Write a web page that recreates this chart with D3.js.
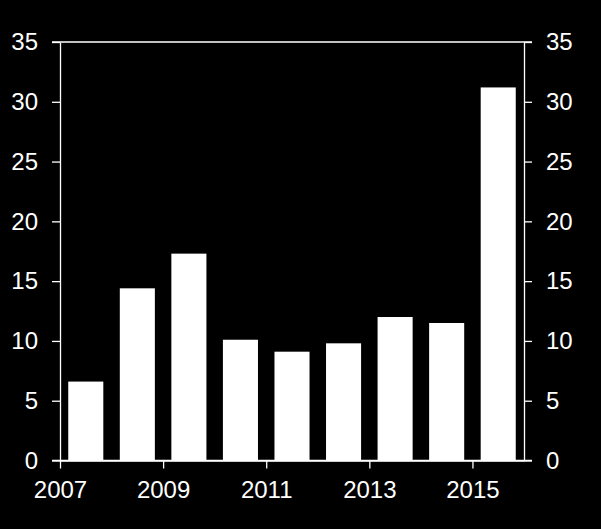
<!DOCTYPE html>
<html>
<head>
<meta charset="utf-8">
<script src="https://cdn.jsdelivr.net/npm/d3@7"></script>
<style>
  html, body { margin: 0; padding: 0; background: #000; }
  svg { display: block; }
  text { font-family: "Liberation Sans", Arial, sans-serif; fill: #fff; }
</style>
</head>
<body>
<script>
const years = [2007, 2008, 2009, 2010, 2011, 2012, 2013, 2014, 2015];
const values = [6.6, 14.4, 17.3, 10.1, 9.1, 9.8, 12.0, 11.5, 31.2];
const yTicks = [0, 5, 10, 15, 20, 25, 30, 35];
const xTickYears = [2007, 2009, 2011, 2013, 2015];

const W = 601, H = 529;
const mLeft = 60, mRight = 524, mTop = 42, mBottom = 460.5;

const svg = d3.select("body").append("svg").attr("width", W).attr("height", H);
svg.append("rect").attr("width", W).attr("height", H).attr("fill", "#000");

const y = d3.scaleLinear().domain([0, 35]).range([mBottom, mTop]);
const xl = d3.scaleLinear().domain([2007, 2016]).range([mLeft, mRight]);
const xb = d3.scaleBand().domain(years).range([mLeft, mRight]).paddingInner(0.32).paddingOuter(0.16);

// bars
svg.append("g").selectAll("rect").data(years).join("rect")
  .attr("x", d => xb(d))
  .attr("width", xb.bandwidth())
  .attr("y", (d, i) => y(values[i]))
  .attr("height", (d, i) => mBottom - y(values[i]))
  .attr("fill", "#fff");

// left axis
const yAxisL = svg.append("g").attr("transform", `translate(${mLeft},0)`)
  .call(d3.axisLeft(y).tickValues(yTicks).tickSize(8).tickPadding(14).tickSizeOuter(0));
// right axis
const yAxisR = svg.append("g").attr("transform", `translate(${mRight},0)`)
  .call(d3.axisRight(y).tickValues(yTicks).tickSize(8).tickPadding(14).tickSizeOuter(0));
// bottom axis
const xAxis = svg.append("g").attr("transform", `translate(0,${mBottom})`)
  .call(d3.axisBottom(xl).tickValues(xTickYears).tickFormat(d3.format("d")).tickSize(8).tickPadding(12).tickSizeOuter(0));

[yAxisL, yAxisR, xAxis].forEach(g => {
  g.selectAll("path.domain").attr("stroke", "#fff").attr("stroke-width", 1.3);
  g.selectAll(".tick line").attr("stroke", "#fff").attr("stroke-width", 1.3);
  g.selectAll(".tick text").attr("fill", "#fff").style("font-size", "24px")
    .style("font-family", "'Liberation Sans', Arial, sans-serif");
});

// horizontal frame lines at top and bottom
svg.append("line").attr("x1", mLeft - 8).attr("x2", mRight + 8)
  .attr("y1", y(35)).attr("y2", y(35)).attr("stroke", "#fff").attr("stroke-width", 1.3);
svg.append("line").attr("x1", mLeft - 8).attr("x2", mRight + 8)
  .attr("y1", y(0)).attr("y2", y(0)).attr("stroke", "#fff").attr("stroke-width", 1.3);
</script>
</body>
</html>
